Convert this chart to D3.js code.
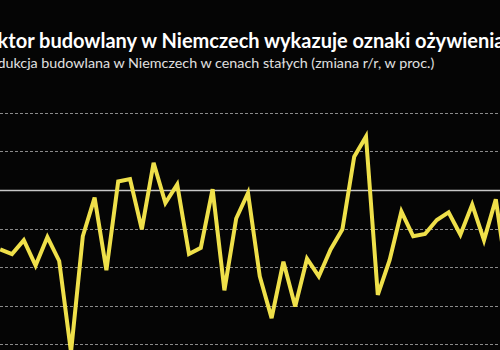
<!DOCTYPE html>
<html lang="pl">
<head>
  <meta charset="utf-8">
  <title>Sektor budowlany w Niemczech</title>
  <style>
    html,body { margin:0; padding:0; background:#050505; }
    svg { display:block; }
  </style>
  <script src="https://d3js.org/d3.v7.min.js"></script>
</head>
<body>
<svg></svg>
<script>
// produkcja budowlana r/r (proc.), kolejne miesiace
const values = [
  -7.7, -8.3, -6.5, -9.8, -6.1, -9.2, -21.0, -6.0, -1.0, -10.4,
   1.1,  1.4, -5.1,  3.5, -1.7,  0.7, -8.3, -7.5,  0.1, -13.0,
  -3.7, -0.4, -11.2, -16.6, -9.3, -15.1, -8.9, -11.2, -7.7, -5.1,
   4.3,  6.9, -13.6, -9.1, -2.8, -6.0, -5.7, -3.9, -2.9, -5.8,
  -1.9, -6.5, -1.2, -11.7
];
const gridTicks = [10, 5, 0, -5, -10, -15, -20];
const title = "Sektor budowlany w Niemczech wykazuje oznaki ożywienia";
const subtitle = "Produkcja budowlana w Niemczech w cenach stałych (zmiana r/r, w proc.)";

const width = 500, height = 350;
const svg = d3.select("svg").attr("width", width).attr("height", height);

svg.append("rect").attr("width", width).attr("height", height).attr("fill", "#050505");

const x = d3.scaleLinear().domain([0, values.length - 1]).range([0.2, 0.2 + (values.length - 1) * 11.8]);
const y = d3.scaleLinear().domain([-20, 10]).range([344.4, 112.7]);

// linie siatki
svg.append("g").selectAll("line")
  .data(gridTicks)
  .join("line")
    .attr("x1", 0).attr("x2", width)
    .attr("y1", d => Math.round(y(d)) + 0.5)
    .attr("y2", d => Math.round(y(d)) + 0.5)
    .attr("stroke", d => d === 0 ? "#c8c8c8" : "#8a8a8a")
    .attr("stroke-width", d => d === 0 ? 1.5 : 1)
    .attr("stroke-dasharray", d => d === 0 ? null : "3,2");

const line = d3.line()
  .x((d, i) => x(i))
  .y(d => y(d));

svg.append("path")
  .datum(values)
  .attr("d", line)
  .attr("fill", "none")
  .attr("stroke", "#efe04a")
  .attr("stroke-width", 4)
  .attr("stroke-linejoin", "miter")
  .attr("stroke-miterlimit", 4);

svg.append("text")
  .attr("x", -24).attr("y", 48)
  .attr("font-family", "Lato")
  .attr("font-weight", 700)
  .attr("font-size", 20)
  .attr("fill", "#ffffff")
  .text(title);

svg.append("text")
  .attr("x", -24).attr("y", 68)
  .attr("font-family", "Lato")
  .attr("font-size", 14.3)
  .attr("fill", "#e0e0e0")
  .text(subtitle);
</script>
</body>
</html>
